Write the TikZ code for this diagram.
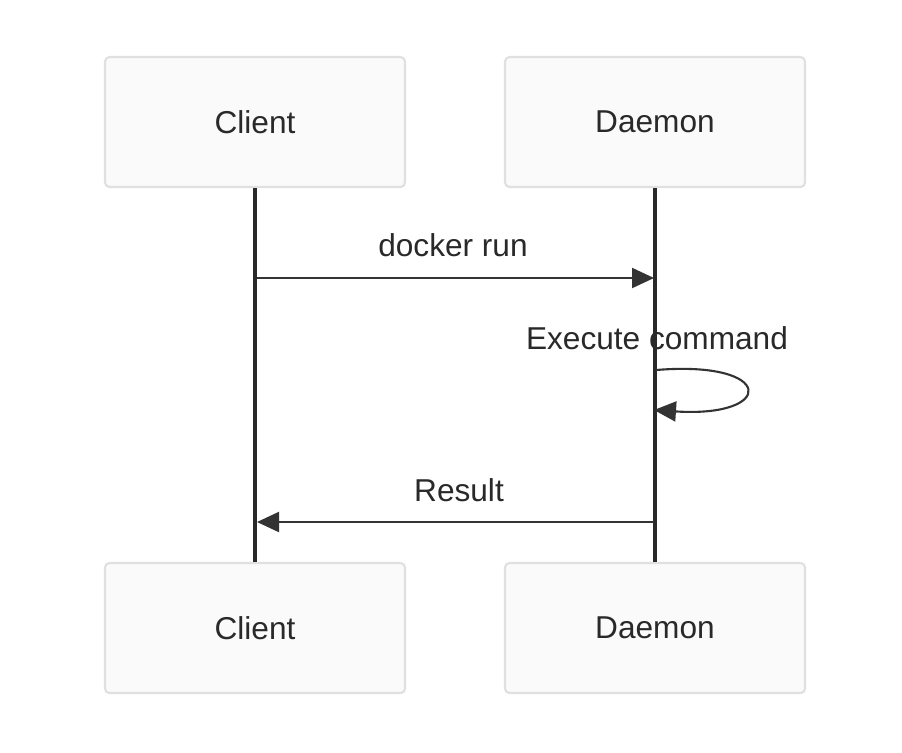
\documentclass[tikz,border=0pt]{standalone}
\usepackage{fontspec}
\setmainfont{Liberation Sans}
\usetikzlibrary{arrows.meta}
\definecolor{boxfill}{HTML}{FAFAFA}
\definecolor{boxline}{HTML}{E0E0E0}
\definecolor{ink}{HTML}{333333}
\tikzset{
  actor/.style={draw=boxline, line width=1.2pt, fill=boxfill, rounded corners=2.5pt,
    minimum width=6cm, minimum height=2.6cm, inner sep=0pt, text=ink!80!black,
    font=\fontsize{18}{22}\selectfont},
  lifeline/.style={draw=ink!80!black, line width=2.1pt},
  msg/.style={draw=ink, line width=1.2pt, -{Triangle[length=0.44cm, width=0.4cm]}},
  msglabel/.style={text=ink!80!black, font=\fontsize{18}{22}\selectfont, inner sep=0pt}
}
\begin{document}
\begin{tikzpicture}[x=0.02cm, y=-0.02cm]
  \useasboundingbox (0,0) rectangle (902,752);
  \fill[white] (0,0) rectangle (902,752);

  \node[actor] (clienttop) at (255,122) {Client};
  \node[actor] (daemontop) at (655,122) {Daemon};
  \node[actor] (clientbot) at (255,628) {Client};
  \node[actor] (daemonbot) at (655,628) {Daemon};

  \draw[lifeline] (clienttop.south) -- (clientbot.north);
  \draw[lifeline] (daemontop.south) -- (daemonbot.north);

  \coordinate (runfrom) at (257,278);
  \coordinate (runto) at (654,278);
  \coordinate (execfrom) at (656,370);
  \coordinate (execto) at (654,410);
  \coordinate (resfrom) at (654,522);
  \coordinate (resto) at (257,522);

  \draw[msg] (runfrom) -- (runto);
  \node[msglabel] (runlabel) at (453,245) {docker run};

  \draw[msg] (execfrom) .. controls (776,360) and (776,418) .. (execto);
  \node[msglabel] (execlabel) at (657,338) {Execute command};

  \draw[msg] (resfrom) -- (resto);
  \node[msglabel] (reslabel) at (459,490) {Result};
\end{tikzpicture}
\end{document}
